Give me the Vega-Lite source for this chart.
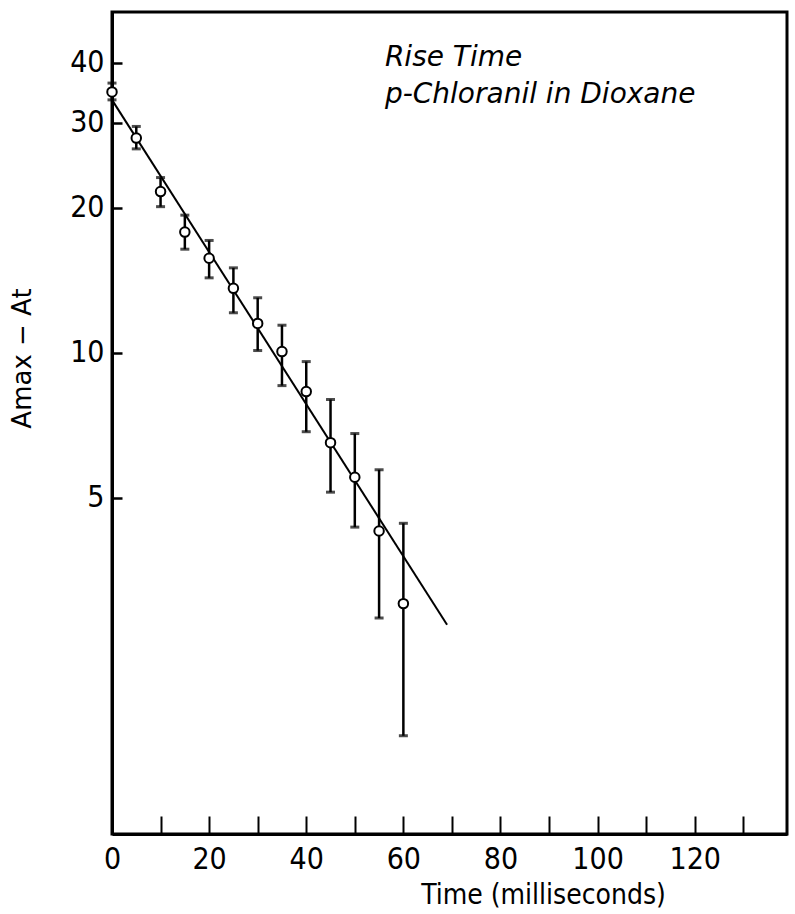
{
  "$schema": "https://vega.github.io/schema/vega-lite/v6.json",
  "width": 675,
  "height": 822,
  "autosize": "none",
  "padding": {"left": 112, "top": 12, "right": 8, "bottom": 80},
  "background": "white",
  "config": {
    "view": {"stroke": "black", "strokeWidth": 3},
    "font": "DejaVu Sans",
    "axis": {"grid": false, "domainColor": "black", "domainWidth": 3, "tickColor": "black", "labelColor": "black", "titleColor": "black", "labelFont": "DejaVu Sans Condensed", "titleFont": "DejaVu Sans", "titleFontWeight": "normal"}
  },
  "resolve": {"axis": {"x": "independent", "y": "independent"}},
  "datasets": {
    "pts": [
      {"t": 0, "v": 34.8, "lo": 33.5, "hi": 36.3},
      {"t": 5, "v": 27.9, "lo": 26.5, "hi": 29.5},
      {"t": 10, "v": 21.6, "lo": 20.1, "hi": 23.1},
      {"t": 15, "v": 17.8, "lo": 16.4, "hi": 19.3},
      {"t": 20, "v": 15.7, "lo": 14.3, "hi": 17.1},
      {"t": 25, "v": 13.6, "lo": 12.1, "hi": 15.0},
      {"t": 30, "v": 11.5, "lo": 10.1, "hi": 13.0},
      {"t": 35, "v": 10.05, "lo": 8.54, "hi": 11.4},
      {"t": 40, "v": 8.3, "lo": 6.85, "hi": 9.58},
      {"t": 45, "v": 6.5, "lo": 5.13, "hi": 7.99},
      {"t": 50, "v": 5.51, "lo": 4.34, "hi": 6.79},
      {"t": 55, "v": 4.26, "lo": 2.81, "hi": 5.71},
      {"t": 60, "v": 3.01, "lo": 1.6, "hi": 4.42}
    ],
    "fit": [
      {"t": 0, "v": 33.5},
      {"t": 69, "v": 2.72}
    ],
    "notes": [
      {"t": 56.2, "v": 39.4, "label": "Rise Time"},
      {"t": 56.2, "v": 33.0, "label": "p-Chloranil in Dioxane"}
    ]
  },
  "layer": [
    {
      "data": {"name": "pts"},
      "mark": {"type": "rule", "color": "black", "strokeWidth": 2.5},
      "encoding": {
        "x": {"field": "t", "type": "quantitative", "scale": {"domain": [0, 139], "nice": false, "zero": false},
          "axis": {"orient": "bottom", "values": [10, 20, 30, 40, 50, 60, 70, 80, 90, 100, 110, 120, 130], "tickSize": -18, "tickWidth": 2, "labels": false, "title": null}},
        "y": {"field": "lo", "type": "quantitative", "scale": {"type": "log", "domain": [1, 51], "nice": false, "zero": false},
          "axis": {"orient": "left", "values": [5, 10, 20, 30, 40], "tickSize": -10, "tickWidth": 2.5, "labels": false, "title": null}},
        "y2": {"field": "hi"}
      }
    },
    {
      "data": {"name": "pts"},
      "mark": {"type": "tick", "color": "black", "orient": "horizontal", "size": 9, "thickness": 3},
      "encoding": {
        "x": {"field": "t", "type": "quantitative", "axis": null},
        "y": {"field": "lo", "type": "quantitative", "axis": null}
      }
    },
    {
      "data": {"name": "pts"},
      "mark": {"type": "tick", "color": "black", "orient": "horizontal", "size": 9, "thickness": 3},
      "encoding": {
        "x": {"field": "t", "type": "quantitative", "axis": null},
        "y": {"field": "hi", "type": "quantitative", "axis": null}
      }
    },
    {
      "data": {"name": "fit"},
      "mark": {"type": "line", "color": "black", "strokeWidth": 2},
      "encoding": {
        "x": {"field": "t", "type": "quantitative", "axis": null},
        "y": {"field": "v", "type": "quantitative", "axis": null}
      }
    },
    {
      "data": {"name": "pts"},
      "mark": {"type": "point", "shape": "circle", "filled": false, "fill": "white", "fillOpacity": 1, "stroke": "black", "strokeWidth": 2, "size": 90, "opacity": 1},
      "encoding": {
        "x": {"field": "t", "type": "quantitative",
          "axis": {"orient": "bottom", "values": [0, 20, 40, 60, 80, 100, 120], "ticks": false, "domain": false, "labelFlush": false, "labelFontSize": 30, "labelPadding": 10, "title": "Time (milliseconds)", "titleFont": "DejaVu Sans Condensed", "titleFontSize": 28, "titlePadding": 7, "titleX": 431}},
        "y": {"field": "v", "type": "quantitative",
          "axis": {"orient": "left", "values": [5, 10, 20, 30, 40], "ticks": false, "domain": false, "labelFlush": false, "labelFontSize": 30, "labelPadding": 8, "title": "Amax − At", "titleFontSize": 26, "titlePadding": 34, "titleY": 346}}
      }
    },
    {
      "data": {"name": "notes"},
      "mark": {"type": "text", "align": "left", "baseline": "alphabetic", "fontSize": 28, "fontStyle": "italic", "font": "DejaVu Sans", "color": "black"},
      "encoding": {
        "x": {"field": "t", "type": "quantitative", "axis": null},
        "y": {"field": "v", "type": "quantitative", "axis": null},
        "text": {"field": "label"}
      }
    }
  ]
}
